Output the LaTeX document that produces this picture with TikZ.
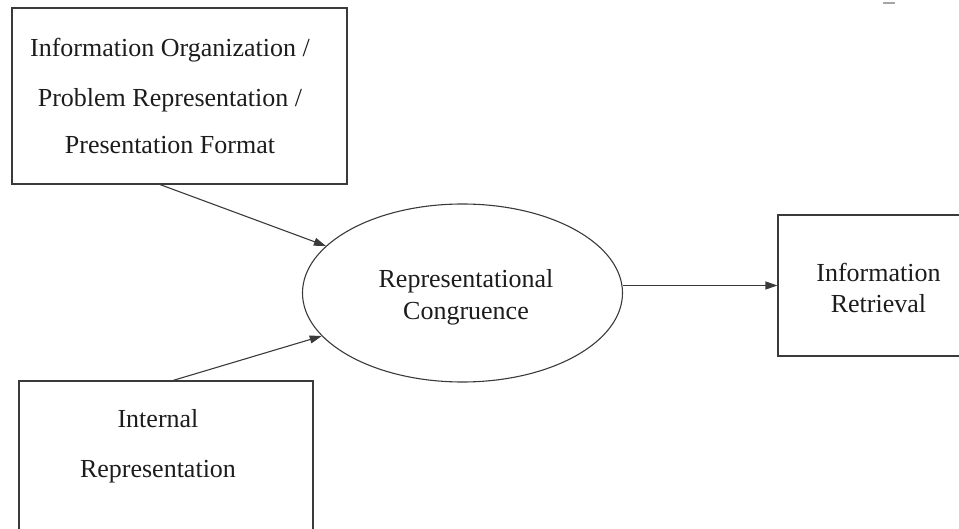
\documentclass[tikz,border=0pt]{standalone}
\usepackage{fontspec}
\setmainfont{Liberation Serif}
\usetikzlibrary{arrows.meta,shapes.geometric}
\definecolor{linegray}{HTML}{3A3A3A}
\definecolor{inkblack}{HTML}{1C1C1C}
\begin{document}
\begin{tikzpicture}[x=1pt,y=-1pt,
  frame/.style={draw=linegray,line width=1.1pt,rectangle,inner sep=0pt},
  oval/.style={draw=linegray,line width=1.1pt,ellipse,inner sep=0pt,
    minimum width=320pt,minimum height=178pt},
  txt/.style={font=\fontsize{26}{26}\selectfont,text=inkblack,anchor=base,inner sep=0pt},
  link/.style={draw=linegray,line width=1.1pt,-{Triangle[length=12pt,width=8pt]}}]
\useasboundingbox (0,0) rectangle (959,529);

% boxes and the central ellipse
\node[frame,minimum width=335pt,minimum height=176pt] (org) at (179.5,96) {};
\node[frame,minimum width=294pt,minimum height=180pt] (int) at (166,471) {};
\node[oval] (cong) at (462.5,293) {};
\node[frame,minimum width=212pt,minimum height=141pt] (ret) at (884,285.5) {};

% labels
\node[txt] (org1) at (170,57) {Information Organization /};
\node[txt] (org2) at (170,106.5) {Problem Representation /};
\node[txt] (org3) at (170,154) {Presentation Format};
\node[txt] (int1) at (158,427) {Internal};
\node[txt] (int2) at (158,477) {Representation};
\node[txt] (cong1) at (466,288) {Representational};
\node[txt] (cong2) at (466,320) {Congruence};
\node[txt] (ret1) at (878.5,282) {Information};
\node[txt] (ret2) at (878.5,313) {Retrieval};

% connectors
\draw[link] ([xshift=-19.5pt]org.south) -- (cong.161.6);
\draw[link] ([xshift=7pt]int.north) -- (cong.197.6);
\draw[link] (cong.east |- ret.west) -- (ret.west);

% small stray mark in the upper right corner
\coordinate (markA) at (883,3);
\coordinate (markB) at (895,3);
\draw[gray!70,line width=1.6pt] (markA) -- (markB);
\end{tikzpicture}
\end{document}
